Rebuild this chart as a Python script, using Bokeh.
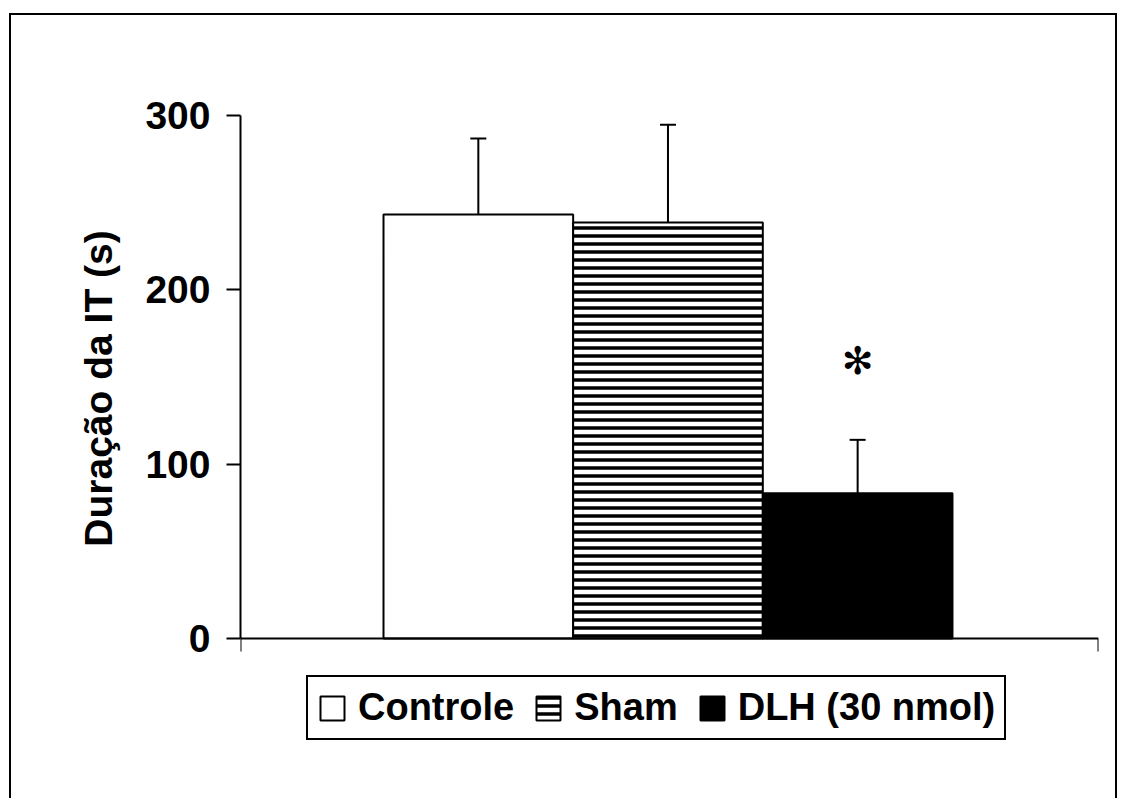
from bokeh.plotting import figure
from bokeh.models import (ColumnDataSource, Range1d, FixedTicker, Whisker, TeeHead,
                          Legend, LegendItem)
from bokeh.embed import file_html
from bokeh.resources import INLINE

# ---- data ----
categories = ["Controle", "Sham", "DLH (30 nmol)"]
means = [243.2, 238.6, 83.3]
sems = [43.6, 56.1, 30.7]
y_ticks = [0, 100, 200, 300]
y_label = "Duração da IT (s)"
signif_mark = "✻"

FONT = "Liberation Sans"
xpos = [i + 1 for i in range(len(categories))]
x_start, x_end = -0.254, 4.27

# outer page frame: figure placed at (9, 13) with a CSS border
p = figure(frame_width=858, frame_height=724, output_backend="svg", toolbar_location=None,
           x_range=Range1d(x_start, x_end), y_range=Range1d(-64.2, 351.1),
           min_border_left=229, min_border_right=17, min_border_top=11,
           min_border_bottom=60, margin=(13, 0, 0, 9),
           styles={"border": "2px solid black", "box-sizing": "border-box"})
p.outline_line_color = None
p.background_fill_color = "white"
p.border_fill_color = "white"
p.xgrid.visible = False
p.ygrid.visible = False

fills = ["white", "white", "black"]
hatches = [" ", "-", " "]
renderers = []
for i, c in enumerate(categories):
    src = ColumnDataSource(dict(x=[xpos[i]], top=[means[i]]))
    r = p.vbar(x="x", top="top", width=1.0, bottom=0, source=src,
               fill_color=fills[i], line_color="black", line_width=2,
               hatch_pattern=hatches[i], hatch_color="black",
               hatch_scale=8, hatch_weight=3.5)
    renderers.append(r)

err_src = ColumnDataSource(dict(x=xpos, lower=means,
                                upper=[m + s for m, s in zip(means, sems)]))
w = Whisker(base="x", lower="lower", upper="upper", source=err_src,
            line_color="black", line_width=2,
            upper_head=TeeHead(size=16, line_color="black", line_width=2),
            lower_head=None)
p.add_layout(w)

# significance marker
p.text(x=[xpos[2]], y=[159], text=[signif_mark], text_font_size="38px",
       text_align="center", text_baseline="middle", text_color="black",
       text_font={"value": "DejaVu Sans"})

# y axis
ya = p.yaxis[0]
ya.ticker = FixedTicker(ticks=y_ticks)
ya.bounds = (0, 300)
ya.axis_label = y_label
ya.axis_label_text_font = FONT
ya.axis_label_text_font_style = "bold"
ya.axis_label_text_font_size = "39px"
ya.axis_label_text_color = "black"
ya.axis_label_standoff = 22
ya.major_label_text_font = FONT
ya.major_label_text_font_style = "bold"
ya.major_label_text_font_size = "39px"
ya.major_label_text_color = "black"
ya.major_label_standoff = 16
ya.major_tick_in = 0
ya.major_tick_out = 14
ya.minor_tick_line_color = None
ya.axis_line_width = 2
ya.major_tick_line_width = 2
ya.axis_line_color = "black"
ya.major_tick_line_color = "black"

# x axis (category boundaries only, no labels), drawn at y = 0
xa = p.xaxis[0]
xa.fixed_location = 0
xa.ticker = FixedTicker(ticks=[x_start, x_end])
xa.major_label_overrides = {x_start: "", x_end: ""}
xa.major_label_standoff = 0
xa.major_tick_in = 0
xa.major_tick_out = 13
xa.minor_tick_line_color = None
xa.axis_line_width = 2
xa.major_tick_line_width = 2
xa.axis_line_color = "black"
xa.major_tick_line_color = "black"

legend = Legend(items=[LegendItem(label=c, renderers=[r]) for c, r in zip(categories, renderers)],
                orientation="horizontal", location=(66, 10),
                label_text_font=FONT, label_text_font_style="bold",
                label_text_font_size="38px", label_text_color="black",
                glyph_width=30, glyph_height=30,
                label_standoff=11, spacing=19, padding=9, margin=0,
                border_line_color="black", border_line_width=2, border_line_alpha=1,
                background_fill_color="white", background_fill_alpha=1)
p.add_layout(legend, "center")

open("out.html", "w").write(file_html(p, INLINE))
